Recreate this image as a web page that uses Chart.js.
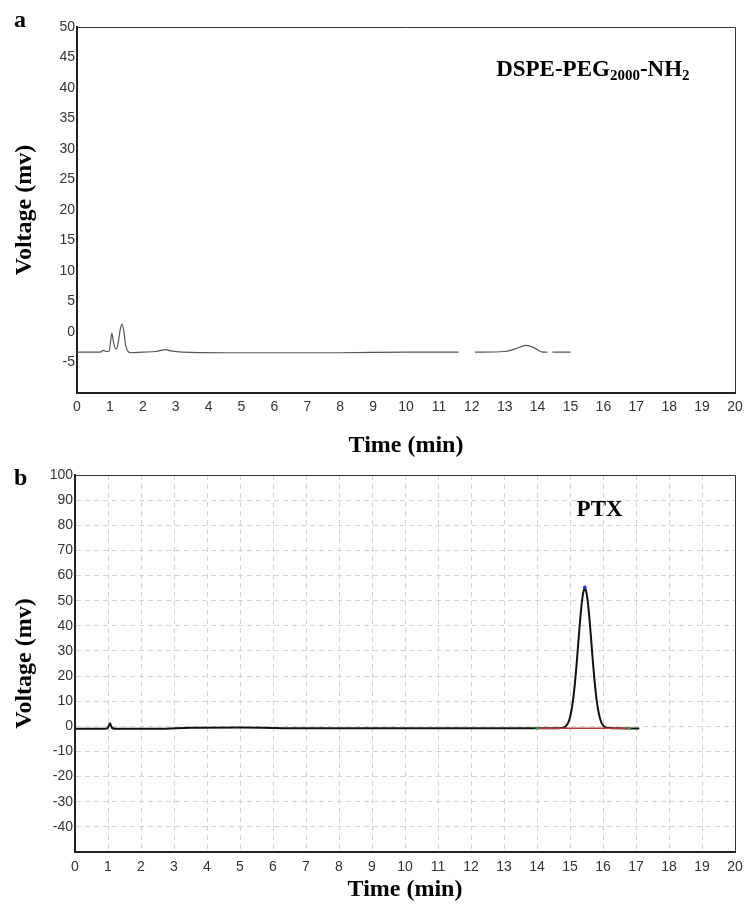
<!DOCTYPE html>
<html>
<head>
<meta charset="utf-8">
<script src="https://cdn.jsdelivr.net/npm/chart.js@4"></script>
<style>
  body { margin: 0; background: #fff; }
  #wrap { position: relative; width: 745px; height: 910px; }
  canvas { position: absolute; left: 0; }
</style>
</head>
<body>
<div id="wrap">
  <canvas id="chartA" width="745" height="482" style="top:0"></canvas>
  <canvas id="chartB" width="745" height="460" style="top:450px"></canvas>
</div>
<script>
// panel a: DSPE-PEG2000-NH2 trace (null = gap in the recorded line)
const timeA = [0, 0.7, 0.8, 0.9, 0.98, 1.02, 1.06, 1.1, 1.14, 1.2, 1.26, 1.32, 1.37, 1.42, 1.48, 1.55, 1.65,
  2.0, 2.4, 2.55, 2.7, 2.85, 3.2, 4.5, 5.3, 8.0, 10.0, 11.0, 11.6, 11.85, 12.1, 13.0, 13.3, 13.65, 13.9,
  14.15, 14.3, 14.38, 14.45, 15.0];
const voltA = [-3.3, -3.3, -3.0, -3.2, -3.1, -1.6, -0.2, -1.4, -2.4, -2.8, -1.5, 0.6, 1.3, 0.3, -2.2, -3.2, -3.4,
  -3.3, -3.2, -3.0, -2.9, -3.1, -3.3, -3.4, -3.4, -3.4, -3.3, -3.3, -3.3, null, -3.3, -3.2, -2.8, -2.2, -2.6,
  -3.3, -3.3, null, -3.3, -3.3];

// panel b: PTX trace
const timeB = [0, 0.9, 1.0, 1.06, 1.12, 1.25, 2.5, 3.5, 5, 7, 9, 12, 14.0, 14.6, 14.7, 14.8, 14.85, 14.9, 14.95,
  15.0, 15.05, 15.1, 15.15, 15.2, 15.25, 15.3, 15.35, 15.4, 15.45, 15.5, 15.55, 15.6, 15.65, 15.7, 15.75, 15.8,
  15.85, 15.9, 15.95, 16.0, 16.05, 16.1, 16.2, 16.4, 17.1];
const voltB = [-1.0, -1.0, -0.5, 1.2, -0.6, -1.0, -1.0, -0.6, -0.5, -0.8, -0.8, -0.8, -0.8, -0.8, -0.7, -0.5, -0.2, 0.5, 1.6,
  3.6, 6.7, 11.2, 17.3, 24.7, 33.0, 41.2, 48.2, 53.1, 54.8, 53.1, 48.2, 41.2, 33.0, 24.7, 17.3, 11.2,
  6.7, 3.6, 1.6, 0.5, -0.2, -0.5, -0.7, -0.8, -0.9];
const baseTimeB = [14.0, 16.8];
const baseVoltB = [-0.8, -0.8];
const apexB = [15.45, 55.3];

const xTicks = { min: 0, max: 20, step: 1 };
const yTicksA = { min: -10, max: 50, step: 5 };
const yTicksB = { min: -50, max: 100, step: 10 };

const toXY = (xs, ys) => xs.map((x, i) => ({ x: x, y: ys[i] }));

const serif = '"Liberation Serif", "Times New Roman", serif';
const sans = '"Liberation Sans", Arial, sans-serif';

// frame on top/right + panel letter + peak label
const notes = {
  id: 'notes',
  afterDraw(chart, args, opts) {
    const { ctx, chartArea: a, scales: { x, y } } = chart;
    ctx.save();
    ctx.strokeStyle = '#333';
    ctx.lineWidth = 1;
    ctx.beginPath();
    ctx.moveTo(a.left, a.top + 0.5);
    ctx.lineTo(a.right + 0.5, a.top + 0.5);
    ctx.lineTo(a.right + 0.5, a.bottom);
    ctx.stroke();

    ctx.fillStyle = '#000';
    ctx.textBaseline = 'alphabetic';
    ctx.font = 'bold 24px ' + serif;
    ctx.fillText(opts.panel, opts.panelAt[0], opts.panelAt[1]);

    let px = x.getPixelForValue(opts.at[0]);
    const py = y.getPixelForValue(opts.at[1]);
    opts.parts.forEach(([txt, sub]) => {
      ctx.font = sub ? 'bold 15px ' + serif : 'bold 23px ' + serif;
      ctx.fillText(txt, px, sub ? py + 4 : py);
      px += ctx.measureText(txt).width;
    });
    ctx.restore();
  }
};

function scales(yt, yWidth, xHeight, gridOn, titleBottomPad, tickPad) {
  const grid = { display: gridOn, color: '#d4d4d4', drawTicks: false, lineWidth: 1 };
  return {
    x: {
      type: 'linear', min: xTicks.min, max: xTicks.max,
      ticks: { stepSize: xTicks.step, color: '#333', padding: tickPad, font: { family: sans, size: 14 } },
      grid: grid,
      border: { display: true, color: '#222', width: 2, dash: [5, 4] },
      title: { display: true, text: 'Time (min)', color: '#000', padding: { top: 0, bottom: titleBottomPad },
        font: { family: serif, size: 24, weight: 'bold' } },
      afterFit: s => { s.height = xHeight; s.paddingLeft = 0; s.paddingRight = 10; }
    },
    y: {
      min: yt.min, max: yt.max,
      ticks: { stepSize: yt.step, color: '#333', padding: 2, font: { family: sans, size: 14 },
        callback: v => v === yt.min ? null : v },
      grid: grid,
      border: { display: true, color: '#222', width: 2, dash: [5, 4] },
      title: { display: true, text: 'Voltage (mv)', color: '#000', padding: { top: 10, bottom: 0 },
        font: { family: serif, size: 24, weight: 'bold' } },
      afterFit: s => { s.width = yWidth; }
    }
  };
}

new Chart(document.getElementById('chartA'), {
  type: 'line',
  data: {
    datasets: [{
      data: toXY(timeA, voltA),
      borderColor: '#555',
      borderWidth: 1.2,
      pointRadius: 0,
      cubicInterpolationMode: 'monotone',
      spanGaps: false
    }]
  },
  options: {
    responsive: false,
    animation: false,
    layout: { padding: { top: 27, right: 0, left: 0, bottom: 0 } },
    plugins: {
      legend: { display: false },
      tooltip: { enabled: false },
      notes: {
        panel: 'a', panelAt: [14, 27],
        at: [12.74, 42],
        parts: [['DSPE-PEG', false], ['2000', true], ['-NH', false], ['2', true]]
      }
    },
    scales: scales(yTicksA, 77, 89, false, 22, 6)
  },
  plugins: [notes]
});

new Chart(document.getElementById('chartB'), {
  type: 'line',
  data: {
    datasets: [{
      data: toXY([apexB[0]], [apexB[1]]),
      showLine: false,
      pointRadius: 1.8,
      pointBackgroundColor: '#2233dd',
      pointBorderWidth: 0
    }, {
      data: toXY(baseTimeB, baseVoltB),
      borderColor: '#b33a3a',
      borderWidth: 1.5,
      pointRadius: 1.5,
      pointBackgroundColor: '#3a9a3a',
      pointBorderWidth: 0
    }, {
      data: toXY(timeB, voltB),
      borderColor: '#111',
      borderWidth: 2,
      pointRadius: 0,
      cubicInterpolationMode: 'monotone'
    }]
  },
  options: {
    responsive: false,
    animation: false,
    layout: { padding: { top: 25, right: 0, left: 0, bottom: 0 } },
    plugins: {
      legend: { display: false },
      tooltip: { enabled: false },
      notes: {
        panel: 'b', panelAt: [14, 35],
        at: [15.2, 83.6],
        parts: [['PTX', false]]
      }
    },
    scales: scales(yTicksB, 75, 58, true, 6, 7)
  },
  plugins: [notes]
});
</script>
</body>
</html>
